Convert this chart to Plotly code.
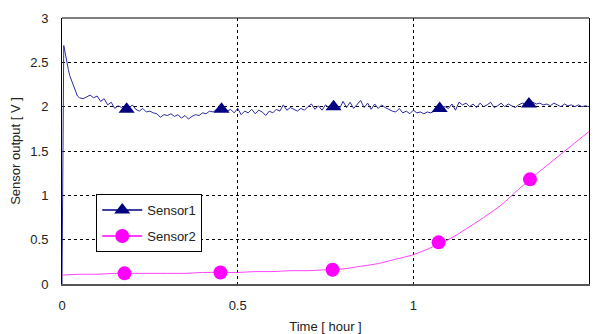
import plotly.graph_objects as go

# ---------------- data ----------------
s1_head_t = [0, 0.001, 0.003, 0.005, 0.007, 0.01, 0.014, 0.018, 0.022, 0.027, 0.032, 0.038, 0.044, 0.05]
s1_head_v = [0, 0.9, 2.2, 2.69, 2.65, 2.58, 2.48, 2.42, 2.35, 2.30, 2.24, 2.18, 2.12, 2.10]
s1_tail_v = [
    2.09, 2.11, 2.13, 2.10, 2.12, 2.06, 2.09, 2.02, 2.05, 1.98,
    2.01, 1.99, 1.96, 1.98, 2.02, 1.97, 1.95, 1.98, 1.94, 1.95,
    1.93, 1.92, 1.88, 1.91, 1.90, 1.92, 1.89, 1.91, 1.87, 1.90,
    1.86, 1.89, 1.91, 1.90, 1.93, 1.92, 1.95, 1.94, 1.97, 1.96,
    1.98, 1.95, 1.97, 1.93, 1.98, 1.91, 1.95, 1.93, 1.97, 1.92,
    1.96, 1.94, 1.90, 1.95, 1.93, 1.97, 1.95, 2.02, 1.96, 1.99,
    1.97, 1.95, 1.98, 1.96, 2.00, 2.03, 1.97, 2.01, 1.96, 2.02,
    1.99, 2.00, 2.01, 1.98, 2.06, 1.99, 2.05, 1.98, 2.02, 2.07,
    1.99, 2.04, 1.97, 2.03, 1.98, 2.02, 1.99, 1.97, 1.95, 1.94,
    1.98, 1.93, 1.95, 1.92, 1.96, 1.93, 1.94, 1.92, 1.94, 1.93,
    1.95, 1.97, 1.99, 2.00, 1.98, 2.03, 1.96, 2.05, 2.02, 2.04,
    2.00, 2.03, 1.99, 2.04, 2.00, 2.02, 2.05, 1.99, 2.01, 2.04,
    2.00, 2.03, 2.01, 1.99, 2.02, 2.04, 2.03, 2.02, 2.05, 2.03,
    2.04, 2.02, 2.03, 2.01, 2.04, 2.02, 2.00, 2.03, 2.01, 2.02,
    2.00, 2.02, 2.00, 2.01, 2.00,
]
s1_tail_t = [round(0.06 + 0.01 * i, 2) for i in range(len(s1_tail_v))]
s1_time = s1_head_t + s1_tail_t
s1_volt = s1_head_v + s1_tail_v

s1_mark_t = [0.184, 0.454, 0.773, 1.075, 1.329]
s1_mark_v = [1.97, 1.97, 2.00, 1.98, 2.03]

s2_time = [0, 0.05, 0.1, 0.15, 0.2, 0.25, 0.3, 0.35, 0.4, 0.45, 0.5, 0.55, 0.6, 0.65,
           0.7, 0.75, 0.8, 0.85, 0.9, 0.95, 1.0, 1.05, 1.1, 1.15, 1.2, 1.25, 1.3,
           1.35, 1.4, 1.45, 1.5]
s2_volt = [0.10, 0.11, 0.11, 0.12, 0.12, 0.12, 0.12, 0.12, 0.13, 0.13, 0.13, 0.14, 0.14, 0.15,
           0.15, 0.16, 0.17, 0.20, 0.23, 0.28, 0.33, 0.41, 0.50, 0.62, 0.75, 0.89, 1.07,
           1.24, 1.40, 1.56, 1.72]
s2_mark_t = [0.178, 0.451, 0.770, 1.072, 1.332]
s2_mark_v = [0.12, 0.13, 0.16, 0.47, 1.18]

x_ticks = [0, 0.5, 1, 1.5]
x_labels = ["0", "0.5", "1", "1.5"]
y_ticks = [0, 0.5, 1, 1.5, 2, 2.5, 3]
y_labels = ["0", "0.5", "1", "1.5", "2", "2.5", "3"]

C1_LINE = "#2b2b9e"
C1_MARK = "#000080"
C2_LINE = "#ff44ff"
C2_MARK = "#ff00ff"

FONT = "Liberation Sans, Arial, sans-serif"

fig = go.Figure()

# data lines
fig.add_trace(go.Scatter(x=s1_time, y=s1_volt, mode="lines", line=dict(color=C1_LINE, width=1),
                         showlegend=False, hoverinfo="skip"))
fig.add_trace(go.Scatter(x=s2_time, y=s2_volt, mode="lines", line=dict(color=C2_LINE, width=1, shape="spline"),
                         showlegend=False, hoverinfo="skip"))
# markers
fig.add_trace(go.Scatter(x=s1_mark_t, y=s1_mark_v, mode="markers",
                         marker=dict(symbol="triangle-up", size=14, color=C1_MARK),
                         showlegend=False))
fig.add_trace(go.Scatter(x=s2_mark_t, y=s2_mark_v, mode="markers",
                         marker=dict(symbol="circle", size=14, color=C2_MARK),
                         showlegend=False))
# legend entries
fig.add_trace(go.Scatter(x=[None], y=[None], mode="lines+markers", name="Sensor1", legendgroup="a",
                         line=dict(color=C1_MARK, width=1.5),
                         marker=dict(symbol="triangle-up", size=14, color=C1_MARK)))
fig.add_trace(go.Scatter(x=[None], y=[None], mode="lines+markers", name="Sensor2", legendgroup="b",
                         line=dict(color=C2_MARK, width=1.5),
                         marker=dict(symbol="circle", size=14, color=C2_MARK)))

fig.update_layout(
    width=596, height=334,
    margin=dict(l=62, r=7, t=18, b=50),
    paper_bgcolor="white", plot_bgcolor="white",
    font=dict(family=FONT, size=13, color="#222"),
    legend=dict(x=0.065, y=0.338, xanchor="left", yanchor="top",
                bgcolor="white", bordercolor="black", borderwidth=1,
                font=dict(size=13, color="#222"), tracegroupgap=6,
                traceorder="grouped", itemwidth=40),
    xaxis=dict(range=[0, 1.5], tickvals=x_ticks, ticktext=x_labels, automargin=False,
               showgrid=True, gridcolor="black", griddash="3px,3px", gridwidth=1,
               zeroline=False, showline=True, linecolor="#555", linewidth=2,
               ticks="outside", ticklen=8, tickcolor="rgba(0,0,0,0)",
               title=dict(text="Time [ hour ]", font=dict(size=13), standoff=12),
               tickfont=dict(size=13)),
    yaxis=dict(range=[0, 3], tickvals=y_ticks, ticktext=y_labels, automargin=False,
               showgrid=True, gridcolor="black", griddash="3px,3px", gridwidth=1,
               zeroline=False, showline=True, linecolor="black", linewidth=1, mirror=True,
               ticks="outside", ticklen=10, tickcolor="rgba(0,0,0,0)",
               title=dict(text="Sensor output [ V ]", font=dict(size=13), standoff=6),
               tickfont=dict(size=13)),
    shapes=[dict(type="line", xref="paper", yref="paper", x0=0, x1=1, y0=1, y1=1,
                 line=dict(color="black", width=1))],
)

fig.write_html("out.html")
